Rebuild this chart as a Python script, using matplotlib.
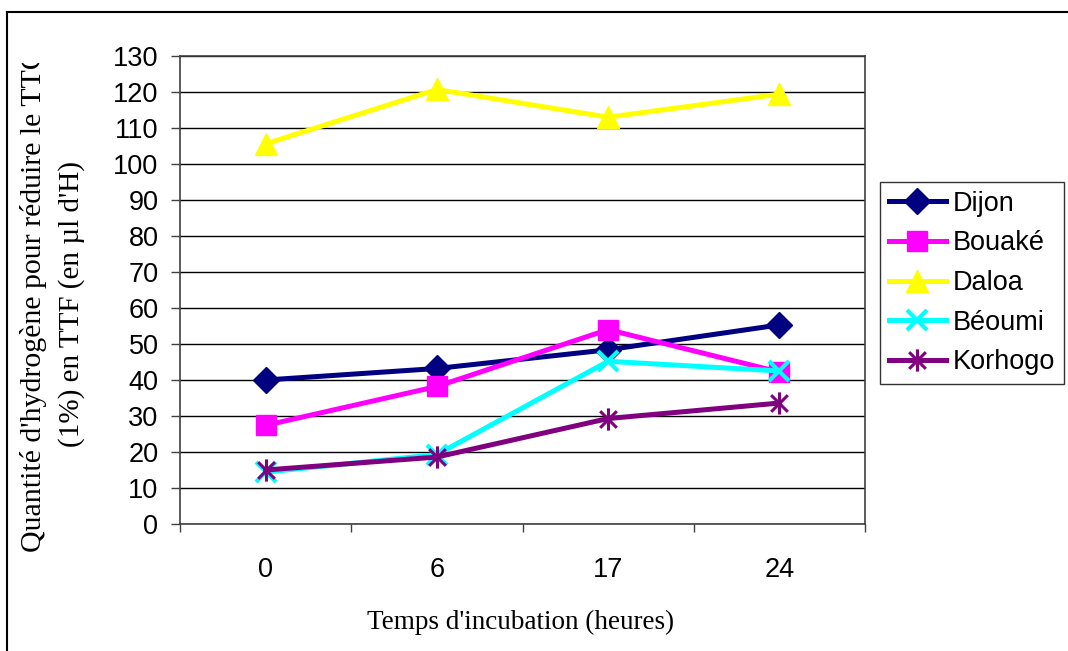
import matplotlib
matplotlib.use('Agg')
import matplotlib.pyplot as plt
from matplotlib.path import Path
from matplotlib.transforms import Bbox, TransformedBbox
from matplotlib.lines import Line2D

# data
hours = ['0', '6', '17', '24']
dijon = [40, 43.2, 48.4, 55.3]
bouake = [27.4, 38.2, 54, 42.2]
daloa = [105.6, 120.7, 113, 119.4]
beoumi = [14.4, 19.3, 45.2, 42.5]
korhogo = [15, 18.6, 29.3, 33.6]

plt.rcParams['font.family'] = ['Liberation Sans', 'DejaVu Sans']

star = Path([(0, -1), (0, 1), (-0.75, -0.75), (0.75, 0.75), (-0.75, 0.75), (0.75, -0.75)],
            [Path.MOVETO, Path.LINETO, Path.MOVETO, Path.LINETO, Path.MOVETO, Path.LINETO])

fig = plt.figure(figsize=(10.68, 6.51), dpi=100)
ax = fig.add_axes([180/1068, 1-524/651, 685/1068, 468/651])

x = range(len(hours))
ax.plot(x, dijon, color='#000080', lw=3.6, marker='D', ms=13, label='Dijon')
ax.plot(x, bouake, color='#FF00FF', lw=3.6, marker='s', ms=14, label='Bouaké')
ax.plot(x, daloa, color='#FFFF00', lw=3.6, marker='^', ms=16, label='Daloa')
ax.plot(x, beoumi, color='#00FFFF', lw=3.6, marker='x', ms=14, mew=3, label='Béoumi')
ax.plot(x, korhogo, color='#800080', lw=3.6, marker=star, ms=16, mew=2.2, label='Korhogo')

ax.set_xlim(-0.5, 3.5)
ax.set_ylim(0, 130)
ax.set_yticks(range(0, 131, 10))
ax.set_xticks(list(x))
ax.set_xticklabels(hours)
ax.set_xticks([-0.5, 0.5, 1.5, 2.5, 3.5], minor=True)
ax.tick_params(axis='x', which='major', length=0, pad=24, labelsize=19.5)
ax.tick_params(axis='x', which='minor', length=6, width=1, direction='out', color='#404040')
ax.tick_params(axis='y', length=6.5, width=1, direction='out', pad=9, labelsize=19.5, color='#404040')
ax.yaxis.grid(True, color='black', lw=1)
ax.set_axisbelow(True)
for s in ax.spines.values():
    s.set_color('#404040')
    s.set_linewidth(1.2)

fig.text(521/1068, 1-622/651, "Temps d'incubation (heures)", family='Liberation Serif',
         fontsize=19.5, ha='center', va='center')
t1 = fig.text(34/1068, 1-301/651, "Quantité d'hydrogène pour réduire le TTC", family='Liberation Serif',
              fontsize=21.5, ha='center', va='center', rotation=90)
t1.set_clip_box(TransformedBbox(Bbox([[0, 0], [1, 1-63/651]]), fig.transFigure))
t1.set_clip_on(True)
fig.text(72/1068, 1-304/651, "(1%) en TTF (en µl d'H)", family='Liberation Serif',
         fontsize=21, ha='center', va='center', rotation=90)

leg = fig.legend(loc='upper left', bbox_to_anchor=(880/1068, 1-182/651), fontsize=19.5,
                 frameon=True, fancybox=False, borderaxespad=0, handlelength=2.1,
                 handletextpad=0.25, labelspacing=0.5, borderpad=0.33)
leg.get_frame().set_edgecolor('black')
leg.get_frame().set_linewidth(1)

# outer chart border (top and left only visible)
fig.add_artist(Line2D([7/1068, 1], [1-12/651, 1-12/651], transform=fig.transFigure, color='black', lw=1.5))
fig.add_artist(Line2D([7/1068, 7/1068], [0, 1-12/651], transform=fig.transFigure, color='black', lw=1.5))

fig.savefig('out.png', dpi=100)
